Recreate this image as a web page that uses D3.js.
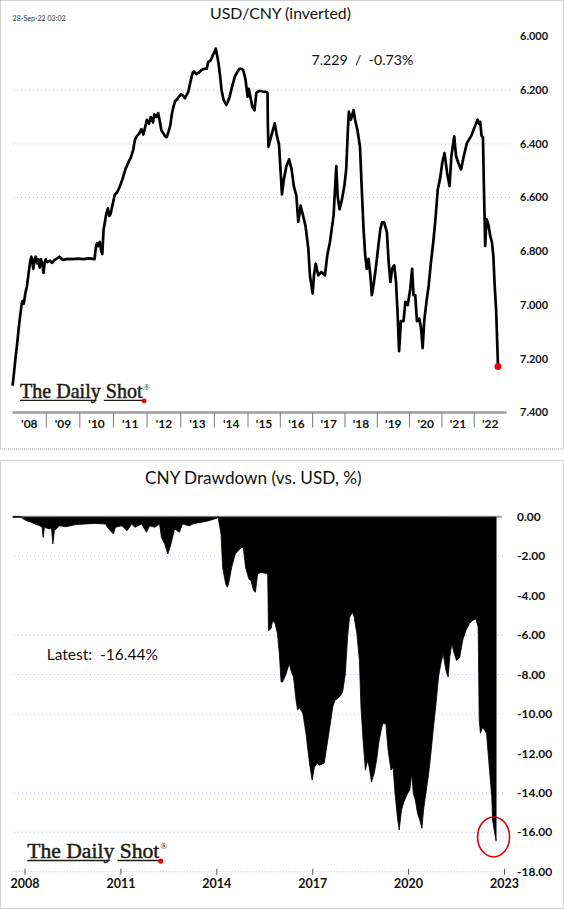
<!DOCTYPE html>
<html><head><meta charset="utf-8">
<script src="https://cdn.jsdelivr.net/npm/d3@7"></script>
<style>body{margin:0;background:#fff}svg{display:block}</style>
</head><body>
<svg id="c" width="564" height="910"></svg>
<script>
// ---------------- DATA ----------------
const usdDates = [
"2008-01-02","2008-01-18","2008-02-05","2008-02-22","2008-03-07","2008-03-24","2008-04-08","2008-04-18","2008-05-02","2008-05-20","2008-06-06","2008-06-24","2008-07-10","2008-07-24","2008-08-05","2008-08-14","2008-08-26","2008-09-10","2008-09-24","2008-10-08","2008-10-22","2008-11-05","2008-11-20","2008-12-03","2008-12-12","2008-12-26",
"2009-01-15","2009-02-10","2009-03-05","2009-04-02","2009-05-05","2009-05-25","2009-07-01","2009-08-20","2009-10-15","2009-12-10",
"2010-02-10","2010-04-10","2010-06-10","2010-06-22","2010-07-06","2010-07-22","2010-08-06","2010-08-22","2010-09-02","2010-09-16","2010-10-01","2010-10-15","2010-11-02","2010-11-17","2010-12-02","2010-12-20",
"2011-01-15","2011-02-10","2011-03-10","2011-04-10","2011-05-10","2011-06-10","2011-07-10","2011-08-05","2011-08-22","2011-09-15","2011-10-10","2011-11-01","2011-11-22","2011-12-30",
"2012-01-20","2012-02-10","2012-03-05","2012-03-20","2012-04-10","2012-05-01","2012-05-15","2012-06-05","2012-06-25","2012-07-15","2012-08-01","2012-08-20","2012-09-10","2012-09-25","2012-10-15","2012-11-01","2012-11-20","2012-12-10",
"2013-01-05","2013-01-25","2013-02-15","2013-03-10","2013-03-25","2013-04-15","2013-05-10","2013-05-25","2013-06-20","2013-07-15","2013-08-15","2013-09-15","2013-10-10","2013-10-25","2013-11-20","2013-12-15",
"2014-01-05","2014-01-15","2014-01-25","2014-02-15","2014-03-05","2014-03-20","2014-04-10","2014-05-10","2014-05-25","2014-06-15","2014-07-10","2014-08-10","2014-09-10","2014-10-01","2014-10-20","2014-11-10","2014-12-05","2014-12-28",
"2015-01-10","2015-02-18","2015-03-15","2015-04-05","2015-05-10","2015-06-15","2015-07-25","2015-08-10","2015-08-13","2015-08-20","2015-09-30","2015-10-30","2015-11-25","2015-12-18",
"2016-01-01","2016-01-20","2016-02-10","2016-03-10","2016-04-10","2016-05-08","2016-06-02","2016-07-01","2016-07-22","2016-08-18","2016-09-15","2016-10-12","2016-11-13","2016-12-01",
"2017-01-01","2017-01-15","2017-02-05","2017-03-05","2017-04-10","2017-05-20","2017-06-15","2017-07-15","2017-08-25","2017-09-25","2017-10-10","2017-11-01","2017-11-25","2017-12-25",
"2018-01-15","2018-02-03","2018-02-14","2018-03-08","2018-04-08","2018-04-25","2018-05-22","2018-06-20","2018-07-10","2018-07-30","2018-08-18","2018-09-05","2018-09-25","2018-10-15","2018-11-01","2018-11-20","2018-12-10","2018-12-28",
"2019-01-18","2019-02-05","2019-02-25","2019-03-20","2019-04-20","2019-05-10","2019-05-30","2019-06-18","2019-07-12","2019-08-01","2019-08-18","2019-09-05","2019-09-25","2019-10-25","2019-11-15","2019-12-12",
"2020-01-10","2020-01-30","2020-02-15","2020-03-05","2020-03-25","2020-04-20","2020-05-10","2020-05-28","2020-06-15","2020-07-10","2020-08-05","2020-08-30","2020-09-25","2020-10-20","2020-11-15","2020-12-10",
"2021-01-05","2021-01-30","2021-03-01","2021-03-28","2021-04-18","2021-05-20","2021-06-10","2021-07-05","2021-08-05","2021-09-05","2021-10-10","2021-11-25",
"2022-01-01","2022-02-08","2022-02-25","2022-03-10","2022-03-25","2022-04-10","2022-04-20","2022-04-27","2022-05-05","2022-05-20","2022-06-10","2022-06-30","2022-07-20","2022-08-05","2022-08-20","2022-09-06","2022-09-27"
];
const usdValues = [
7.30,7.25,7.19,7.14,7.09,7.04,7.00,6.985,6.995,6.955,6.93,6.88,6.84,6.82,6.845,6.865,6.83,6.82,6.845,6.83,6.86,6.83,6.845,6.88,6.85,6.83,
6.84,6.835,6.843,6.832,6.825,6.82,6.832,6.828,6.829,6.827,
6.829,6.826,6.829,6.79,6.77,6.78,6.765,6.80,6.81,6.72,6.69,6.66,6.64,6.668,6.66,6.63,
6.59,6.58,6.56,6.53,6.495,6.47,6.45,6.42,6.385,6.37,6.36,6.345,6.365,6.31,
6.325,6.30,6.32,6.29,6.30,6.285,6.31,6.35,6.36,6.372,6.375,6.355,6.33,6.29,6.26,6.24,6.235,6.225,
6.215,6.22,6.23,6.215,6.205,6.17,6.135,6.13,6.14,6.135,6.125,6.12,6.12,6.095,6.09,6.07,
6.055,6.045,6.06,6.10,6.15,6.20,6.235,6.255,6.245,6.225,6.19,6.15,6.13,6.12,6.12,6.125,6.16,6.225,
6.195,6.26,6.275,6.21,6.202,6.205,6.206,6.21,6.32,6.41,6.36,6.323,6.372,6.403,
6.483,6.588,6.532,6.483,6.458,6.495,6.557,6.594,6.69,6.63,6.668,6.705,6.79,6.89,
6.957,6.89,6.846,6.889,6.877,6.889,6.815,6.766,6.668,6.483,6.594,6.643,6.612,6.557,
6.495,6.348,6.28,6.31,6.274,6.31,6.348,6.41,6.569,6.717,6.815,6.865,6.828,6.889,6.963,6.926,6.877,6.828,
6.766,6.717,6.692,6.692,6.729,6.84,6.914,6.865,6.852,6.914,7.025,7.172,7.06,7.06,6.988,7.0,
6.938,6.865,6.963,6.963,7.06,7.05,7.086,7.16,7.06,6.988,6.926,6.84,6.766,6.68,6.569,6.532,
6.47,6.434,6.508,6.557,6.446,6.372,6.446,6.47,6.495,6.446,6.397,6.372,
6.342,6.31,6.325,6.318,6.37,6.375,6.55,6.655,6.78,6.68,6.70,6.74,6.766,6.815,6.925,7.02,7.229
];

const ddDates = [
"2007-08-15","2007-11-20","2007-12-12","2008-01-18","2008-03-18","2008-04-22","2008-06-18","2008-07-15","2008-07-26","2008-08-10","2008-10-08","2008-10-30","2008-11-14","2008-12-02",
"2009-01-30","2009-04-12","2009-08-05","2009-11-25","2010-03-18","2010-07-08","2010-08-15","2010-10-08","2010-10-30",
"2011-01-12","2011-03-12","2011-05-05","2011-06-10","2011-08-25","2011-10-20","2011-11-25",
"2012-01-22","2012-03-18","2012-04-08","2012-05-15","2012-06-20","2012-07-26","2012-09-05","2012-10-30","2012-12-05","2013-02-20","2013-04-16","2013-07-02","2013-10-05",
"2014-01-05","2014-01-14","2014-01-22","2014-02-18","2014-03-08","2014-04-12","2014-05-01","2014-05-15","2014-06-20","2014-07-30","2014-09-05","2014-10-12","2014-10-30","2014-11-25",
"2015-01-01","2015-01-26","2015-02-25","2015-03-18","2015-04-12","2015-05-22","2015-08-05","2015-08-14","2015-09-12","2015-10-01","2015-10-30","2015-11-25","2015-12-16",
"2016-01-05","2016-01-22","2016-03-03","2016-04-08","2016-04-26","2016-05-26","2016-06-24","2016-07-12","2016-07-30","2016-09-10","2016-10-16","2016-11-25","2016-12-25",
"2017-01-20","2017-02-18","2017-03-18","2017-05-12","2017-06-10","2017-07-09","2017-08-18","2017-09-12","2017-10-30","2017-12-08",
"2018-01-08","2018-02-03","2018-02-25","2018-04-02","2018-04-20","2018-05-20","2018-06-18","2018-07-06","2018-07-30","2018-08-26","2018-09-20","2018-10-08","2018-11-03","2018-12-05","2018-12-31",
"2019-01-30","2019-03-10","2019-04-16","2019-05-12","2019-06-14","2019-07-08","2019-07-30","2019-08-30","2019-09-16","2019-10-12","2019-11-10","2019-12-20",
"2020-01-15","2020-02-06","2020-02-24","2020-03-18","2020-04-12","2020-05-08","2020-06-02","2020-06-20","2020-07-16","2020-08-18","2020-09-12","2020-10-08","2020-11-06","2020-12-08",
"2021-01-04","2021-01-30","2021-03-03","2021-03-28","2021-04-16","2021-05-08","2021-06-06","2021-07-02","2021-08-08","2021-09-10","2021-10-16","2021-11-25",
"2022-01-01","2022-02-06","2022-03-06","2022-03-18","2022-04-01","2022-04-26","2022-06-10","2022-06-28","2022-07-20","2022-08-08","2022-08-18","2022-09-27"
];
const ddValues = [
0,0,-0.12,-0.2,-0.29,-0.37,-0.46,-0.54,-1.05,-0.54,-0.62,-0.58,-1.38,-0.71,
-0.46,-0.51,-0.40,-0.37,-0.34,-0.37,-0.62,-0.88,-0.54,
-0.46,-0.71,-0.37,-0.54,-0.37,-0.79,-0.46,
-0.54,-0.37,-1.05,-1.38,-1.89,-1.38,-0.62,-0.79,-0.37,-0.46,-0.34,-0.29,-0.20,
-0.07,0,-0.2,-0.88,-2.56,-3.41,-3.58,-3.41,-2.56,-1.89,-1.72,-1.55,-1.55,-2.56,
-3.15,-3.24,-3.74,-3.83,-2.9,-2.82,-2.9,-5.77,-5.68,-5.26,-5.43,-5.94,-6.95,
-8.38,-8.38,-7.96,-7.45,-7.79,-8.13,-9.31,-9.81,-9.65,-9.98,-11.0,-12.5,-13.36,
-12.7,-12.5,-12.6,-12.5,-11.67,-10.83,-9.65,-9.31,-9.15,-8.9,
-7.97,-6.11,-5.1,-4.85,-5.1,-5.94,-7.29,-9.65,-11.33,-12.85,-12.35,-12.7,-13.45,-13.0,-12.35,
-11.33,-10.5,-10.5,-11.84,-12.85,-12.7,-14.04,-15.38,-15.89,-14.87,-14.45,-14.04,
-13.86,-13.02,-14.04,-14.37,-15.04,-15.38,-15.8,-14.87,-14.04,-13.02,-12.0,-10.83,-9.65,-8.13,
-7.45,-6.95,-7.8,-8.13,-7.12,-6.45,-6.95,-7.29,-7.12,-6.28,-5.77,-5.43,
-5.26,-5.18,-5.6,-10.3,-10.98,-10.68,-10.98,-12.0,-13.18,-14.2,-15.4,-16.44
];

const topYearLabels = ["'08","'09","'10","'11","'12","'13","'14","'15","'16","'17","'18","'19","'20","'21","'22"];
const topYTicks = [6.0,6.2,6.4,6.6,6.8,7.0,7.2,7.4];
const topGridTicks = [6.2,6.4,6.6];
const botYearTicks = [2008,2011,2014,2017,2020,2023];
const botYTicks = [0,-2,-4,-6,-8,-10,-12,-14,-16,-18];
const botGridTicks = [-2,-6,-8,-10,-14,-16];
const topTitle = "USD/CNY (inverted)";
const botTitle = "CNY Drawdown (vs. USD, %)";
const stampText = "28-Sep-22 03:02";
const lastText = "7.229  /  -0.73%";
const latestText = "Latest:  -16.44%";

// ---------------- DRAW ----------------
const parse = d3.timeParse("%Y-%m-%d");
const usd = usdDates.map((d,i)=>({date:parse(d), v:usdValues[i]}));
const dd = ddDates.map((d,i)=>({date:parse(d), v:ddValues[i]}));
const svg = d3.select("#c");
const SANS = "Lato, 'Noto Sans', 'DejaVu Sans', sans-serif";
const GRID = "#b9b9e4";

function fit(sel, target){
  const w = sel.node().getComputedTextLength();
  if (w > 0) sel.attr("font-size", (+sel.attr("font-size")) * target / w);
  return sel;
}
function txt(x, y, s, size, opts={}){
  const t = svg.append("text").attr("x",x).attr("y",y)
    .attr("font-family",SANS).attr("font-size",size)
    .attr("fill",opts.fill||"#111")
    .attr("font-weight",opts.bold?"bold":"normal")
    .attr("text-anchor",opts.anchor||"start")
    .style("white-space","pre").text(s);
  return t;
}

// panel borders
[[0.5,0.5,563,448.5],[0.5,460.5,563,448]].forEach(r=>{
  svg.append("rect").attr("x",r[0]).attr("y",r[1]).attr("width",r[2]).attr("height",r[3])
    .attr("fill","none").attr("stroke","#a6a6a6").attr("stroke-width",1).attr("stroke-dasharray","1,1");
});

// ===== TOP PANEL =====
const xT = d3.scaleTime()
  .domain([new Date(2008,0,1), new Date(2015,0,1), new Date(2023,0,1)])
  .range([12.5, 248, 506.5]);
const yT = d3.scaleLinear().domain([6.0, 7.4]).range([36.5, 412.5]);

fit(txt(280.5, 19, topTitle, 16, {anchor:"middle"}), 141);
fit(txt(12.6, 21, stampText, 8, {fill:"#333"}), 53);

svg.append("g").selectAll("line").data(topGridTicks).join("line")
  .attr("x1",13).attr("x2",510).attr("y1",d=>yT(d)).attr("y2",d=>yT(d))
  .attr("stroke",GRID).attr("stroke-width",1).attr("stroke-dasharray","1,3");

svg.append("g").selectAll("text").data(topYTicks).join("text")
  .attr("x",520).attr("y",d=>yT(d)).attr("dy","0.35em")
  .attr("font-family",SANS).attr("font-weight","bold").attr("font-size",11).attr("fill","#111")
  .text(d=>d.toFixed(3));

const axY = yT(7.4);
svg.append("line").attr("x1",xT(new Date(2008,0,1))).attr("x2",xT(new Date(2023,0,1)))
  .attr("y1",axY).attr("y2",axY).attr("stroke","#9c9c9c").attr("stroke-width",2.5);
const tickYears = d3.range(2009, 2023);
svg.append("g").selectAll("line").data(tickYears).join("line")
  .attr("x1",d=>xT(new Date(d,0,1))).attr("x2",d=>xT(new Date(d,0,1)))
  .attr("y1",axY).attr("y2",axY+15).attr("stroke","#7a7a7a").attr("stroke-width",1);
svg.append("g").selectAll("text").data(topYearLabels).join("text")
  .attr("x",(d,i)=>xT(new Date(2008+i,6,2))).attr("y",axY+15)
  .attr("text-anchor","middle").attr("font-family",SANS).attr("font-weight","bold")
  .attr("font-size",12).attr("fill","#111").text(d=>d);

svg.append("path").datum(usd)
  .attr("d", d3.line().x(d=>xT(d.date)).y(d=>yT(d.v)))
  .attr("fill","none").attr("stroke","#000").attr("stroke-width",2.7)
  .attr("stroke-linejoin","round");
const lastU = usd[usd.length-1];
svg.append("circle").attr("cx",xT(lastU.date)).attr("cy",yT(lastU.v)).attr("r",3.5).attr("fill","#ee0000");

fit(txt(311.5, 65, lastText, 14), 102);

function logo(x, base, targetW){
  const g = svg.append("g");
  const size0 = 20;
  const INK = "#1b1b14";
  const mk = (s, xx, sz) => g.append("text").attr("x",xx).attr("y",base)
    .attr("font-family","'Liberation Serif','DejaVu Serif',serif").attr("font-size",sz)
    .attr("fill",INK).attr("stroke",INK).attr("stroke-width",0.45).text(s);
  let t1 = mk("The Daily", x, size0);
  let w1 = t1.node().getComputedTextLength();
  let t2 = mk("Shot", x, size0);
  let w2 = t2.node().getComputedTextLength();
  const gap0 = size0*0.25;
  const k = targetW / (w1 + gap0 + w2);
  const size = size0 * k;
  t1.attr("font-size", size); t2.attr("font-size", size);
  w1 = t1.node().getComputedTextLength(); w2 = t2.node().getComputedTextLength();
  const gap = gap0*k;
  t2.attr("x", x + w1 + gap);
  const end = x + w1 + gap + w2;
  g.append("text").attr("x", end + 1).attr("y", base - size*0.42)
    .attr("font-family","'Liberation Serif',serif").attr("font-size", size*0.42)
    .attr("fill",INK).text("®");
  const uy = base + size*0.12;
  g.append("line").attr("x1",x).attr("x2",x + w1 - size*0.22).attr("y1",uy).attr("y2",uy)
    .attr("stroke",INK).attr("stroke-width",size*0.07);
  g.append("line").attr("x1",x + w1 + gap*0.6).attr("x2",end).attr("y1",uy).attr("y2",uy)
    .attr("stroke",INK).attr("stroke-width",size*0.07);
  g.append("circle").attr("cx", end + 1.5).attr("cy", uy + 0.5).attr("r", size*0.12).attr("fill","#ee0000");
}
logo(20, 398, 122.7);

// ===== BOTTOM PANEL =====
const xB = d3.scaleTime().domain([new Date(2008,0,1), new Date(2023,0,1)]).range([25, 504.5]);
const yB = d3.scaleLinear().domain([0,-18]).range([516.7, 871.7]);

fit(txt(253.3, 484, botTitle, 16, {anchor:"middle"}), 216.7);

svg.append("g").selectAll("line").data(botGridTicks).join("line")
  .attr("x1",14).attr("x2",503).attr("y1",d=>yB(d)).attr("y2",d=>yB(d))
  .attr("stroke",GRID).attr("stroke-width",1).attr("stroke-dasharray","1,3");
svg.append("line").attr("x1",12.6).attr("x2",505).attr("y1",yB(-18)).attr("y2",yB(-18))
  .attr("stroke",GRID).attr("stroke-width",1).attr("stroke-dasharray","1,2");
svg.append("line").attr("x1",12.6).attr("x2",501.7).attr("y1",yB(0)).attr("y2",yB(0))
  .attr("stroke","#9c9c9c").attr("stroke-width",2);

svg.append("path").datum(dd)
  .attr("d", d3.area().x(d=>xB(d.date)).y0(yB(0)+0.5).y1(d=>yB(d.v)))
  .attr("fill","#000").attr("stroke","#000").attr("stroke-width",0.8);

const fmt2 = v => (v<0?"-":"") + Math.abs(v).toFixed(2);
svg.append("g").selectAll("text").data(botYTicks).join("text")
  .attr("x",517).attr("y",d=>yB(d)).attr("dy","0.35em")
  .attr("font-family",SANS).attr("font-weight","bold").attr("font-size",12).attr("fill","#111")
  .text(fmt2);

svg.append("g").selectAll("line").data(botYearTicks).join("line")
  .attr("x1",d=>xB(new Date(d,0,1))).attr("x2",d=>xB(new Date(d,0,1)))
  .attr("y1",yB(-18)-3).attr("y2",yB(-18)+3).attr("stroke","#555").attr("stroke-width",1);
svg.append("g").selectAll("text").data(botYearTicks).join("text")
  .attr("x",d=>xB(new Date(d,0,1))).attr("y",yB(-18)+16.5)
  .attr("text-anchor","middle").attr("font-family",SANS).attr("font-weight","bold")
  .attr("font-size",12.5).attr("fill","#111").text(d=>d);

fit(txt(46.7, 660, latestText, 14), 111.3);

const lastD = dd[dd.length-1];
svg.append("ellipse").attr("cx",xB(lastD.date)-2.5).attr("cy",yB(lastD.v)-4)
  .attr("rx",16).attr("ry",20).attr("fill","none").attr("stroke","#e00000").attr("stroke-width",1.6);

logo(27.3, 858, 132);
</script>
</body></html>
